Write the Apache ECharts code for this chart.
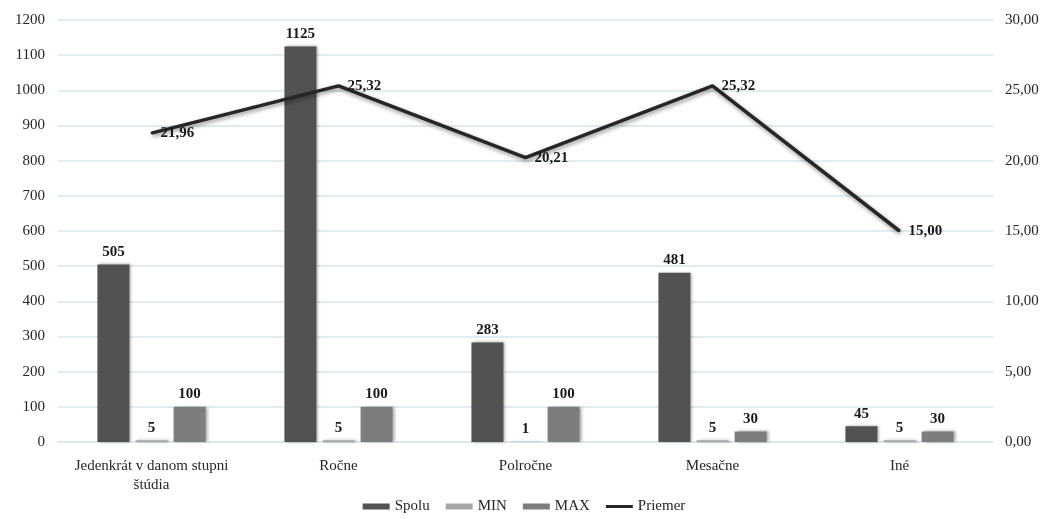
<!DOCTYPE html>
<html><head><meta charset="utf-8">
<script src="https://cdn.jsdelivr.net/npm/echarts@6/dist/echarts.min.js"></script>
<style>html,body{margin:0;padding:0;background:#fff}#c{width:1048px;height:519px}</style>
</head><body><div id="c"></div>
<script>
const categories = ['Jedenkrát v danom stupni\nštúdia', 'Ročne', 'Polročne', 'Mesačne', 'Iné'];
const spolu = [505, 1125, 283, 481, 45];
const minVals = [5, 5, 1, 5, 5];
const maxVals = [100, 100, 100, 30, 30];
const priemer = [21.96, 25.32, 20.21, 25.32, 15.00];

const font = 'Liberation Serif';
const chart = echarts.init(document.getElementById('c'));
const barLabel = {show: true, position: 'top', distance: 5, fontFamily: font, fontSize: 15, fontWeight: 'bold', color: '#1a1a1a'};
const shadow = {shadowColor: 'rgba(0,0,0,0.35)', shadowBlur: 3, shadowOffsetX: 2, shadowOffsetY: 0};
chart.setOption({
  animation: false,
  textStyle: {fontFamily: font},
  grid: {left: 58, right: 55, top: 20, bottom: 77},
  legend: {
    bottom: 0, left: 'center', itemWidth: 27, itemHeight: 6, itemGap: 16,
    textStyle: {fontFamily: font, fontSize: 15, color: '#262626'},
    data: [{name: 'Spolu', icon: 'rect'}, {name: 'MIN', icon: 'rect'}, {name: 'MAX', icon: 'rect'},
           {name: 'Priemer', icon: 'path://M0,0L27,0L27,3L0,3Z', itemStyle: {color: '#262626'}}]
  },
  xAxis: {
    type: 'category', data: categories,
    axisLine: {lineStyle: {color: '#d6e6ea', width: 1.5}},
    axisTick: {show: false},
    axisLabel: {interval: 0, fontFamily: font, fontSize: 15, color: '#262626', margin: 15, lineHeight: 19}
  },
  yAxis: [
    {type: 'value', min: 0, max: 1200, interval: 100,
     axisLabel: {fontFamily: font, fontSize: 15, color: '#262626', margin: 13, formatter: v => String(v)},
     splitLine: {lineStyle: {color: '#d6e6ea', width: 1.5}},
     axisLine: {show: false}, axisTick: {show: false}},
    {type: 'value', min: 0, max: 30, interval: 5,
     axisLabel: {fontFamily: font, fontSize: 15, color: '#262626', margin: 12,
       formatter: v => v.toFixed(2).replace('.', ',')},
     splitLine: {show: false}, axisLine: {show: false}, axisTick: {show: false}}
  ],
  series: [
    {name: 'Spolu', type: 'bar', data: spolu, barWidth: 32, barGap: '19%',
     itemStyle: Object.assign({color: '#525252'}, shadow), label: barLabel},
    {name: 'MIN', type: 'bar', data: minVals, barWidth: 32,
     itemStyle: Object.assign({color: '#a8a8a8'}, shadow), label: barLabel},
    {name: 'MAX', type: 'bar', data: maxVals, barWidth: 32,
     itemStyle: Object.assign({color: '#7d7d7d'}, shadow), label: barLabel},
    {name: 'Priemer', type: 'line', yAxisIndex: 1, data: priemer,
     symbol: 'circle', symbolSize: 2,
     itemStyle: {color: '#262626'},
     lineStyle: {color: '#262626', width: 3.5, shadowColor: 'rgba(0,0,0,0.45)', shadowBlur: 4, shadowOffsetX: 1, shadowOffsetY: 2},
     label: {show: true, position: 'right', distance: 8, fontFamily: font, fontSize: 15, fontWeight: 'bold', color: '#1a1a1a',
       formatter: p => p.value.toFixed(2).replace('.', ',')}}
  ]
});
</script></body></html>
